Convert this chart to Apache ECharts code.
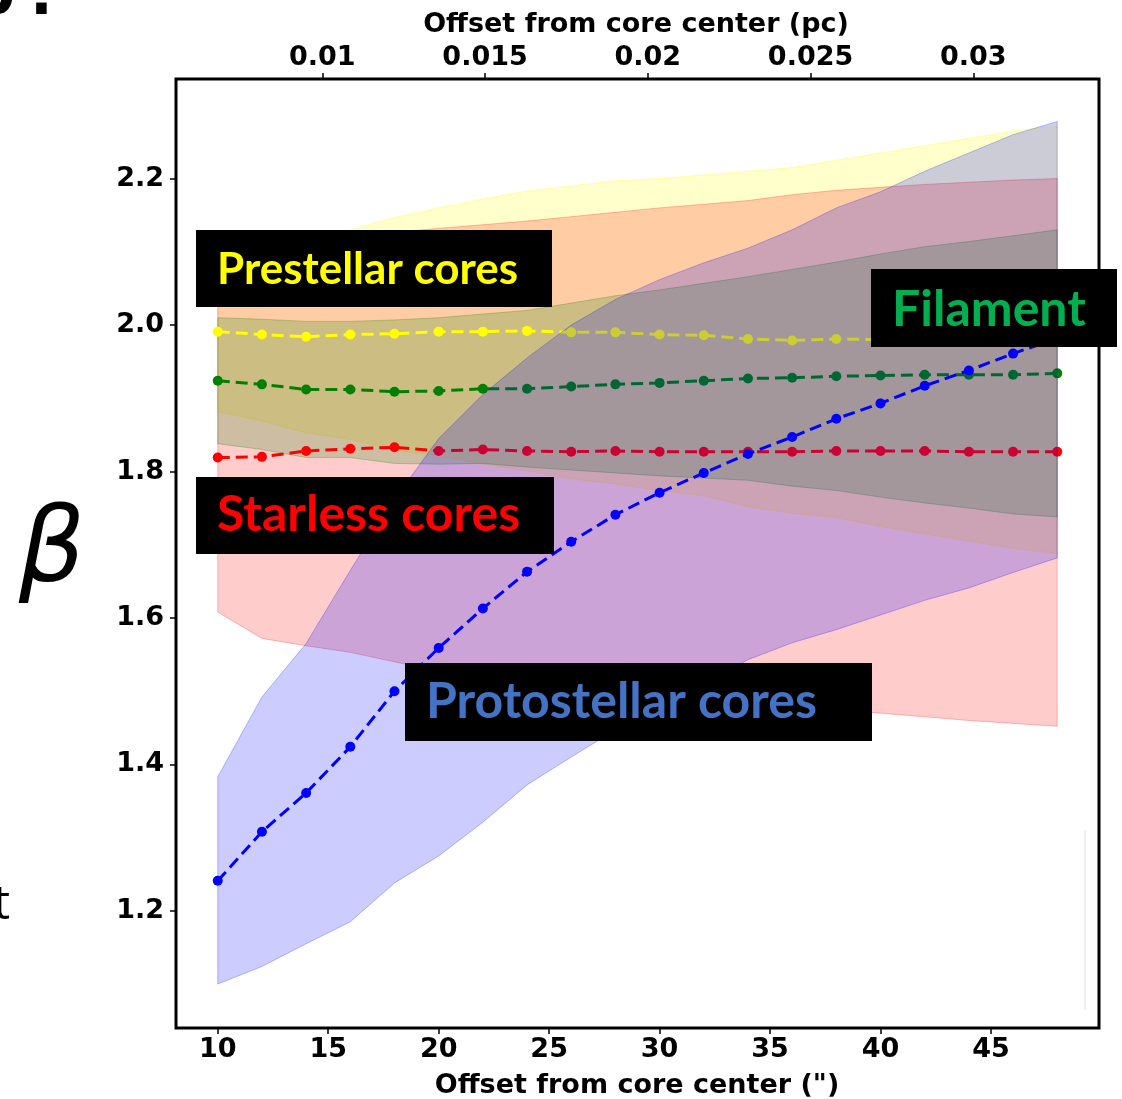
<!DOCTYPE html>
<html><head><meta charset="utf-8">
<script src="https://cdn.jsdelivr.net/npm/echarts@6/dist/echarts.min.js"></script>
<style>html,body{margin:0;padding:0;background:#fff}#c{width:1122px;height:1099px}</style>
</head><body><div id="c"></div>
<script>
// ---- data (offset in arcsec) ----
const offsets = [10,12,14,16,18,20,22,24,26,28,30,32,34,36,38,40,42,44,46,48];

const prestellarMean  = [1.991,1.987,1.984,1.987,1.988,1.991,1.991,1.992,1.990,1.990,1.987,1.986,1.981,1.979,1.981,1.980,1.980,1.980,1.980,1.980];
const prestellarUpper = [2.100,2.105,2.115,2.130,2.147,2.160,2.172,2.183,2.190,2.197,2.200,2.205,2.210,2.215,2.225,2.235,2.245,2.255,2.265,2.272];
const prestellarLower = [1.882,1.869,1.853,1.844,1.829,1.822,1.810,1.801,1.790,1.783,1.774,1.767,1.752,1.743,1.737,1.725,1.715,1.705,1.695,1.688];

const filamentMean  = [1.924,1.919,1.912,1.912,1.909,1.910,1.913,1.913,1.916,1.919,1.921,1.924,1.927,1.928,1.930,1.931,1.932,1.932,1.932,1.934];
const filamentUpper = [2.010,2.008,2.005,2.005,2.007,2.010,2.015,2.020,2.030,2.040,2.048,2.057,2.066,2.076,2.086,2.097,2.107,2.114,2.122,2.130];
const filamentLower = [1.838,1.830,1.819,1.819,1.811,1.810,1.811,1.806,1.802,1.798,1.794,1.791,1.788,1.780,1.774,1.765,1.757,1.750,1.742,1.738];

const starlessMean  = [1.819,1.820,1.828,1.831,1.833,1.828,1.830,1.828,1.827,1.828,1.827,1.827,1.827,1.827,1.828,1.828,1.828,1.827,1.827,1.827];
const starlessUpper = [2.030,2.068,2.094,2.109,2.127,2.132,2.137,2.142,2.148,2.154,2.160,2.165,2.170,2.178,2.184,2.188,2.192,2.195,2.198,2.200];
const starlessLower = [1.608,1.572,1.562,1.553,1.540,1.527,1.522,1.515,1.507,1.502,1.495,1.489,1.484,1.478,1.474,1.470,1.465,1.460,1.456,1.452];

const protostellarMean  = [1.241,1.308,1.361,1.424,1.500,1.559,1.613,1.663,1.704,1.741,1.771,1.798,1.824,1.847,1.872,1.893,1.917,1.938,1.961,1.982];
const protostellarUpper = [1.383,1.492,1.565,1.665,1.762,1.845,1.905,1.955,2.000,2.035,2.062,2.085,2.105,2.130,2.160,2.182,2.210,2.235,2.260,2.278];
const protostellarLower = [1.100,1.124,1.155,1.185,1.238,1.275,1.321,1.372,1.410,1.447,1.480,1.510,1.543,1.566,1.584,1.604,1.624,1.641,1.662,1.682];

// ---- tick labels ----
const arcsecTicks = [10,15,20,25,30,35,40,45];
const pcTicks = [0.01,0.015,0.02,0.025,0.03];
const betaTicks = [1.2,1.4,1.6,1.8,2.0,2.2];
const pcPerArcsec = 140 / 206265; // distance 140 pc
const arcsecMin = 8.11, arcsecMax = 49.89;

const AXFONT = {color:'#000', fontFamily:'DejaVu Sans', fontWeight:'bold', fontSize:27};

function pairs(arr){ return offsets.map((x,i)=>[x, arr[i]]); }

// band drawn as one polygon (fill_between) using the library's coordinate system
function band(key, lower, upper, fill, edge, z){
  return {
    type:'custom', name:key+' range', silent:true, z:z, clip:true,
    data: offsets.map((x,i)=>[x, lower[i], upper[i]]),
    encode:{x:0, y:[1,2]},
    renderItem: function(params, api){
      if (params.dataIndex !== 0) return null;
      const top = [], bot = [];
      for (let i = 0; i < offsets.length; i++){
        top.push(api.coord([offsets[i], upper[i]]));
        bot.push(api.coord([offsets[i], lower[i]]));
      }
      const pts = top.concat(bot.reverse());
      return {type:'polygon', shape:{points:pts}, style:{fill:fill, stroke:edge, lineWidth:1}};
    }
  };
}
function meanLine(key, arr, color, z){
  return {type:'line', name:key, data:pairs(arr), symbol:'circle', symbolSize:10, silent:true,
    lineStyle:{color:color, width:3, type:[12,6]}, itemStyle:{color:color}, z:z};
}

const series = [
  band('prestellar', prestellarLower, prestellarUpper, 'rgba(255,255,0,0.2)', 'rgba(255,255,0,0.3)', 1),
  band('starless', starlessLower, starlessUpper, 'rgba(255,0,0,0.2)', 'rgba(255,0,0,0.25)', 1),
  band('filament', filamentLower, filamentUpper, 'rgba(0,128,0,0.2)', 'rgba(0,128,0,0.25)', 1),
  meanLine('Prestellar', prestellarMean, '#FFFF00', 2),
  meanLine('Filament', filamentMean, '#008000', 2),
  meanLine('Starless', starlessMean, '#FF0000', 2),
  band('protostellar', protostellarLower, protostellarUpper, 'rgba(0,0,255,0.2)', 'rgba(0,0,255,0.25)', 3),
  meanLine('Protostellar', protostellarMean, '#0000FF', 4)
];

function labelBox(x, y, w, h, text, color, size, ty){
  return [
    {type:'rect', shape:{x:x, y:y, width:w, height:h}, style:{fill:'#000'}, z:100},
    {type:'text', x:x+21, y:ty, style:{text:text, fill:color, font:'bold '+size+'px Lato', verticalAlign:'middle', align:'left'}, z:101}
  ];
}

const chart = echarts.init(document.getElementById('c'), null, {renderer:'canvas'});
chart.setOption({
  animation:false,
  backgroundColor:'#fff',
  grid:{left:176, right:23, top:79, bottom:71, show:true, borderColor:'#000', borderWidth:3, containLabel:false, outerBoundsMode:'none'},
  xAxis:[
    {type:'value', position:'bottom', min:arcsecMin, max:arcsecMax,
     axisLine:{show:false}, splitLine:{show:false},
     axisTick:{show:true, length:6, lineStyle:{color:'#000', width:1.5}, customValues:arcsecTicks},
     axisLabel:Object.assign({customValues:arcsecTicks, margin:8}, AXFONT)},
    {type:'value', position:'top', min:arcsecMin*pcPerArcsec, max:arcsecMax*pcPerArcsec,
     axisLine:{show:false}, splitLine:{show:false},
     axisTick:{show:true, length:6, lineStyle:{color:'#000', width:1.5}, customValues:pcTicks},
     axisLabel:Object.assign({customValues:pcTicks, margin:8, formatter:v=>String(+v.toFixed(3))}, AXFONT)}
  ],
  yAxis:{type:'value', min:1.04, max:2.336,
     axisLine:{show:false}, splitLine:{show:false},
     axisTick:{show:true, length:6, lineStyle:{color:'#000', width:1.5}, customValues:betaTicks},
     axisLabel:Object.assign({customValues:betaTicks, margin:12, formatter:v=>v.toFixed(1)}, AXFONT)},
  series: series,
  graphic: [].concat(
    [{type:'text', x:637, y:1086, style:{text:'Offset from core center (")', fill:'#000', font:'bold 27px "DejaVu Sans"', align:'center', verticalAlign:'middle'}, z:50},
     {type:'text', x:636, y:25, style:{text:'Offset from core center (pc)', fill:'#000', font:'bold 27px "DejaVu Sans"', align:'center', verticalAlign:'middle'}, z:50},
     {type:'text', x:52, y:554, style:{text:'β', fill:'#000', font:'italic 104px "DejaVu Sans"', align:'center', verticalAlign:'middle'}, z:50},
     {type:'text', x:10, y:905, style:{text:'t', fill:'#000', font:'48px "Open Sans"', align:'right', verticalAlign:'middle'}, z:50},
     {type:'text', x:15, y:27, style:{text:'b', fill:'#000', font:'bold 60px "DejaVu Sans"', align:'right', verticalAlign:'bottom'}, z:50},
     {type:'text', x:30, y:28, style:{text:'.', fill:'#000', font:'bold 60px "DejaVu Sans"', align:'left', verticalAlign:'bottom'}, z:50},
     {type:'line', shape:{x1:1085, y1:830, x2:1085, y2:1010}, style:{stroke:'#eeeeee', lineWidth:2}, z:50}],
    labelBox(196, 230, 356, 77, 'Prestellar cores', '#FFFF00', 44, 270),
    labelBox(871, 269, 246, 78, 'Filament', '#00B050', 50, 310),
    labelBox(196, 477, 358, 77, 'Starless cores', '#FF0000', 50, 515),
    labelBox(405, 663, 467, 78, 'Protostellar cores', '#4472C4', 50, 702)
  )
});
</script>
</body></html>
